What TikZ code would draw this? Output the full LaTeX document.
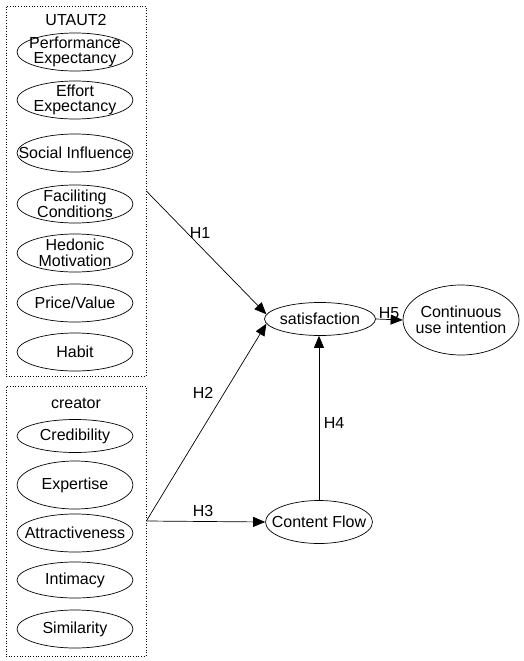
\documentclass[tikz,border=0pt]{standalone}
\usepackage{fontspec}
\setmainfont{Liberation Sans}
\usetikzlibrary{arrows.meta,shapes.geometric}
\begin{document}
\begin{tikzpicture}[x=1pt,y=-1pt,line width=0.7pt,
  every node/.style={font=\fontsize{16}{15.5}\selectfont},
  group/.style={draw,dotted,minimum width=140pt,inner sep=0pt},
  oval/.style={draw,ellipse,inner sep=0pt,minimum width=116pt,minimum height=38pt},
  txt/.style={align=center,inner sep=0pt},
  >={Triangle[length=12pt,width=10pt]}]
\useasboundingbox (0,0) rectangle (524,661);
% UTAUT2 group
\node[group,minimum height=370pt] (ut) at (76,191) {};
\node (uttitle) at (76,20) {UTAUT2};
\node[oval,label={[txt]center:Performance\\Expectancy}] (pe) at (75,52) {};
\node[oval,label={[txt]center:Effort\\Expectancy}] (ee) at (75,100) {};
\node[oval,label={[txt]center:Social Influence}] (si) at (75,153) {};
\node[oval,label={[txt]center:Faciliting\\Conditions}] (fc) at (75,204) {};
\node[oval,label={[txt]center:Hedonic\\Motivation}] (hm) at (75,253) {};
\node[oval,label={[txt]center:Price/Value}] (pv) at (75,303) {};
\node[oval,label={[txt]center:Habit}] (hb) at (75,352) {};
% creator group
\node[group,minimum height=270pt] (cr) at (76,521) {};
\node (crtitle) at (76,403) {creator};
\node[oval,minimum height=33pt,label={[txt]center:Credibility}] (cb) at (75,436) {};
\node[oval,minimum height=48pt,label={[txt]center:Expertise}] (ex) at (75,485) {};
\node[oval,label={[txt]center:Attractiveness}] (at) at (75,533) {};
\node[oval,minimum height=36pt,label={[txt]center:Intimacy}] (im) at (75,580) {};
\node[oval,label={[txt]center:Similarity}] (sm) at (75,629) {};
% outcomes
\node[oval,minimum width=111pt,minimum height=33pt,label={[txt]center:satisfaction}] (sat) at (320,319) {};
\node[oval,minimum width=116pt,minimum height=70pt,label={[txt]center:Continuous\\use intention}] (cui) at (461,320) {};
\node[oval,minimum width=107pt,minimum height=43pt,label={[txt]center:Content Flow}] (cf) at (319,522) {};
% paths
\draw[->] (ut.east) -- (sat.175);
\draw[->] (cr.east) -- (sat.185);
\draw[->] (cr.east) -- (cf.west);
\draw[->] (cf.north) -- (cf.north |- sat.south);
\draw[->] (sat.east) -- (cui.west);
\node (h1) at (200,233) {H1};
\node (h2) at (203,393) {H2};
\node (h3) at (203,511) {H3};
\node (h4) at (334,423) {H4};
\node (h5) at (389,313) {H5};
\end{tikzpicture}
\end{document}
